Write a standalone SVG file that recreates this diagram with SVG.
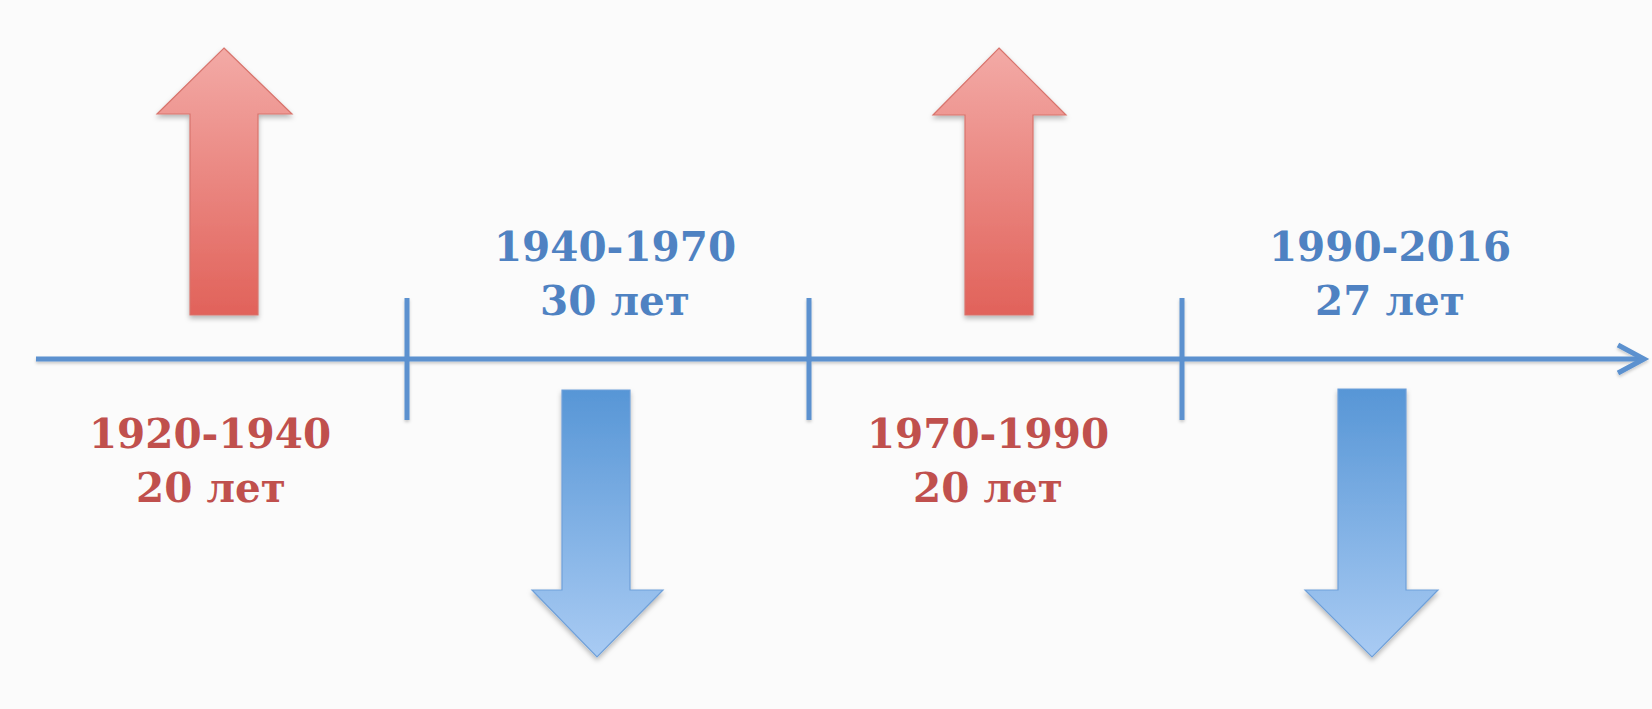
<svg xmlns="http://www.w3.org/2000/svg" width="1652" height="709" viewBox="0 0 1652 709">
  <defs>
    <linearGradient id="gRed" x1="0" y1="0" x2="0" y2="1">
      <stop offset="0" stop-color="#f3aaa6"/>
      <stop offset="1" stop-color="#e1625a"/>
    </linearGradient>
    <linearGradient id="gBlue" x1="0" y1="0" x2="0" y2="1">
      <stop offset="0" stop-color="#5796d6"/>
      <stop offset="1" stop-color="#a9cbf3"/>
    </linearGradient>
    <filter id="sh" x="-20%" y="-20%" width="140%" height="140%">
      <feDropShadow dx="0" dy="3" stdDeviation="2.5" flood-color="#000" flood-opacity="0.28"/>
    </filter>
    <filter id="shl" x="-5%" y="-50%" width="110%" height="200%">
      <feDropShadow dx="0" dy="2" stdDeviation="1.5" flood-color="#000" flood-opacity="0.2"/>
    </filter>
  </defs>
  <style>
    .red { fill: url(#gRed); stroke: #d8746d; stroke-width: 1.2; }
    .blue { fill: url(#gBlue); stroke: #6fa0d9; stroke-width: 1.2; }
    .axis { stroke: #5b91cf; stroke-width: 5; fill: none; stroke-linecap: butt; }
    .t { font-family: "DejaVu Serif", "Liberation Serif", serif; font-weight: bold; font-size: 40.5px; text-anchor: middle; }
    .tr { fill: #c0504d; }
    .tb { fill: #4f82c2; }
  </style>
  <rect x="0" y="0" width="1652" height="709" fill="#fbfbfb"/>

  <g id="connectors" filter="url(#shl)">
    <line class="axis" x1="36" y1="359" x2="1642" y2="359"/>
    <polyline class="axis" points="1618,345 1644,359 1618,373" stroke-linejoin="miter"/>
    <line class="axis" x1="407" y1="298" x2="407" y2="420"/>
    <line class="axis" x1="809" y1="298" x2="809" y2="420"/>
    <line class="axis" x1="1182" y1="298" x2="1182" y2="420"/>
  </g>

  <g id="up-arrow-1" filter="url(#sh)">
    <polygon class="red" points="224,48 292,114 258,114 258,315 190,315 190,114 157,114"/>
  </g>
  <g id="up-arrow-2" filter="url(#sh)">
    <polygon class="red" points="999,48 1066,115 1033,115 1033,315 965,315 965,115 933,115"/>
  </g>
  <g id="down-arrow-1" filter="url(#sh)">
    <polygon class="blue" points="562,390 630,390 630,590 663,590 597,657 532,590 562,590"/>
  </g>
  <g id="down-arrow-2" filter="url(#sh)">
    <polygon class="blue" points="1338,389 1406,389 1406,590 1438,590 1372,657 1305,590 1338,590"/>
  </g>

  <g id="label-1920-1940">
    <text class="t tr" x="210" y="448">1920-1940</text>
    <text class="t tr" x="211" y="502">20 лет</text>
  </g>
  <g id="label-1940-1970">
    <text class="t tb" x="615" y="261">1940-1970</text>
    <text class="t tb" x="615" y="315">30 лет</text>
  </g>
  <g id="label-1970-1990">
    <text class="t tr" x="988" y="448">1970-1990</text>
    <text class="t tr" x="988" y="502">20 лет</text>
  </g>
  <g id="label-1990-2016">
    <text class="t tb" x="1390" y="261">1990-2016</text>
    <text class="t tb" x="1390" y="315">27 лет</text>
  </g>
</svg>
